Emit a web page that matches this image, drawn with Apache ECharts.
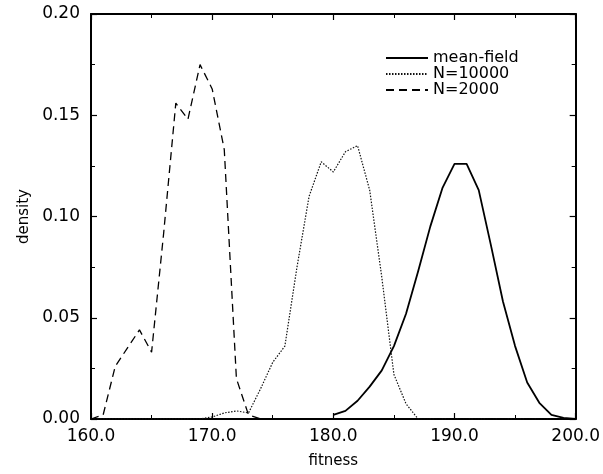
<!DOCTYPE html>
<html>
<head>
<meta charset="utf-8">
<script src="https://cdn.jsdelivr.net/npm/echarts@6/dist/echarts.min.js"></script>
<style>
html,body{margin:0;padding:0;background:#fff;}
#c{width:603px;height:474px;}
</style>
</head>
<body>
<div id="c"></div>
<script>
// Data
var meanFieldX = [180,181,182,183,184,185,186,187,188,189,190,191,192,193,194,195,196,197,198,199,200];
var meanFieldY = [0.002,0.004,0.009,0.016,0.024,0.036,0.052,0.073,0.095,0.114,0.126,0.126,0.113,0.086,0.058,0.036,0.018,0.008,0.002,0.0005,0];

var n10000X = [160,161,162,163,164,165,166,167,168,169,170,171,172,173,174,175,176,177,178,179,180,181,182,183,184,185,186,187,188,189,190,191,192,193,194,195,196,197,198,199,200];
var n10000Y = [0,0,0,0,0,0,0,0,0,0,0.001,0.003,0.004,0.003,0.015,0.028,0.036,0.075,0.110,0.127,0.122,0.132,0.135,0.113,0.070,0.022,0.0075,0,0,0,0,0,0,0,0,0,0,0,0,0,0];

var n2000X = [160,161,162,163,164,165,166,167,168,169,170,171,172,173,174,175,176,177,178,179,180,181,182,183,184,185,186,187,188,189,190,191,192,193,194,195,196,197,198,199,200];
var n2000Y = [0,0.002,0.026,0.035,0.044,0.033,0.092,0.156,0.148,0.175,0.163,0.133,0.020,0.002,0,0,0,0,0,0,0,0,0,0,0,0,0,0,0,0,0,0,0,0,0,0,0,0,0,0,0];

var seriesNames = ['mean-field','N=10000','N=2000'];
var xTicks = {min:160, max:200, interval:10};
var yTicks = {min:0, max:0.20, interval:0.05};
var xLabel = 'fitness';
var yLabel = 'density';

function pairs(xs, ys){ return xs.map(function(x,i){ return [x, ys[i]]; }); }

var FONT = 'DejaVu Sans';
var chart = echarts.init(document.getElementById('c'), null, {renderer:'canvas'});

function axisBase(extra){
  var base = {
    axisLine:{show:true, onZero:false, lineStyle:{color:'#000', width:2}},
    axisTick:{show:true, inside:true, length:6, lineStyle:{color:'#000', width:1.2}},
    minorTick:{show:true, splitNumber:2, length:4, lineStyle:{color:'#000', width:1}},
    splitLine:{show:false},
    minorSplitLine:{show:false}
  };
  for (var k in extra) base[k] = extra[k];
  return base;
}

var option = {
  animation:false,
  backgroundColor:'#fff',
  grid:{left:91, right:22, top:14, bottom:52, containLabel:false},
  legend:{
    orient:'vertical',
    left:380, top:45,
    itemWidth:42, itemHeight:12, itemGap:0,
    itemStyle:{opacity:0},
    textStyle:{fontFamily:FONT, fontSize:16, lineHeight:15, color:'#000'},
    data:seriesNames
  },
  xAxis:[
    axisBase({type:'value', position:'bottom', min:xTicks.min, max:xTicks.max, interval:xTicks.interval,
      name:xLabel, nameLocation:'middle', nameGap:35,
      nameTextStyle:{fontFamily:FONT, fontSize:15, color:'#000'},
      axisLabel:{show:true, margin:9, fontFamily:FONT, fontSize:17, color:'#000',
        formatter:function(v){return v.toFixed(1);}}}),
    axisBase({type:'value', position:'top', min:xTicks.min, max:xTicks.max, interval:xTicks.interval,
      axisLabel:{show:false}})
  ],
  yAxis:[
    axisBase({type:'value', position:'left', min:yTicks.min, max:yTicks.max, interval:yTicks.interval,
      name:yLabel, nameLocation:'middle', nameGap:53, nameRotate:90,
      nameTextStyle:{fontFamily:FONT, fontSize:15, color:'#000'},
      axisLabel:{show:true, margin:11, fontFamily:FONT, fontSize:17, color:'#000',
        formatter:function(v){return v.toFixed(2);}}}),
    axisBase({type:'value', position:'right', min:yTicks.min, max:yTicks.max, interval:yTicks.interval,
      axisLabel:{show:false}})
  ],
  series:[
    {name:seriesNames[0], type:'line', data:pairs(meanFieldX, meanFieldY), showSymbol:false, symbol:'none',
      lineStyle:{color:'#000', width:1.8, type:'solid'}, itemStyle:{color:'#000'}, z:3},
    {name:seriesNames[1], type:'line', data:pairs(n10000X, n10000Y), showSymbol:false, symbol:'none',
      lineStyle:{color:'#111', width:1.2, type:[1.5,1.5]}, itemStyle:{color:'#111'}, z:2},
    {name:seriesNames[2], type:'line', data:pairs(n2000X, n2000Y), showSymbol:false, symbol:'none',
      lineStyle:{color:'#000', width:1.3, type:[8,5]}, itemStyle:{color:'#000'}, z:2}
  ]
};
chart.setOption(option);
</script>
</body>
</html>
